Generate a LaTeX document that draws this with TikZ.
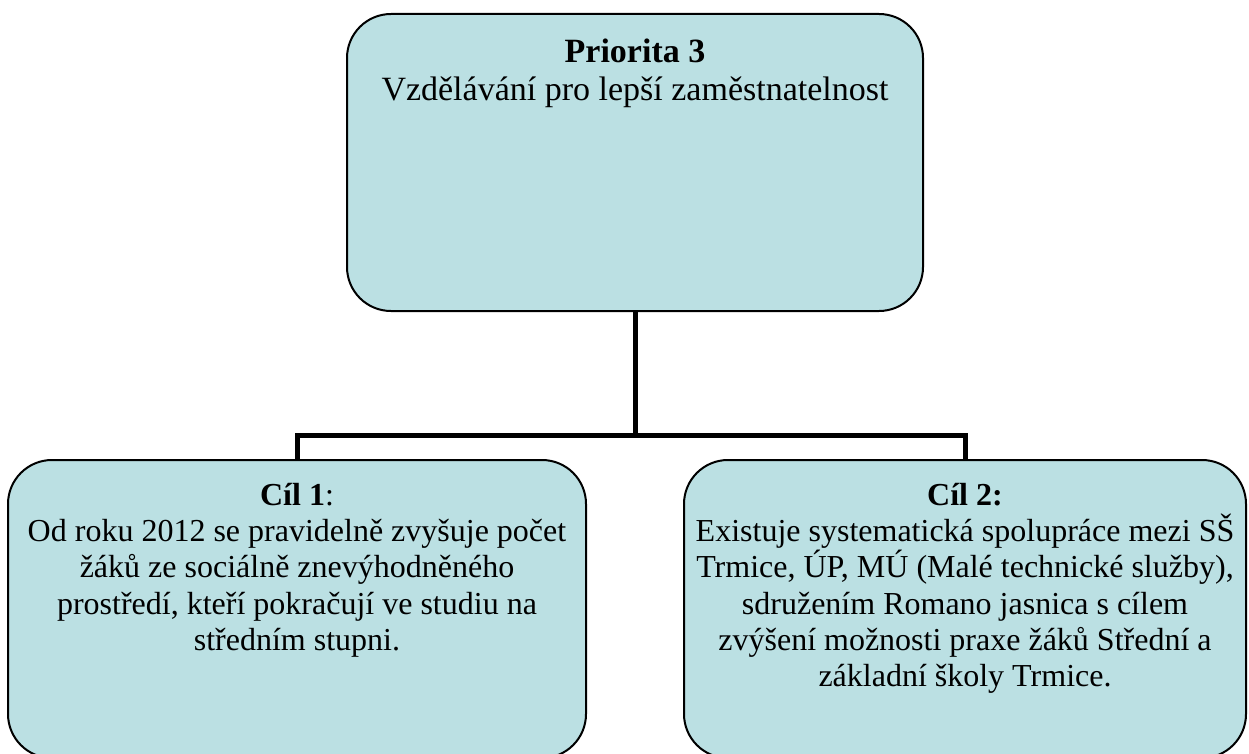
\documentclass[tikz,border=0pt]{standalone}
\usepackage{fontspec}
\setmainfont{Liberation Serif}
\definecolor{boxfill}{RGB}{187,224,227}
\begin{document}
\begin{tikzpicture}[x=1pt,y=-1pt,
  goalbox/.style={draw=black, line width=2pt, fill=boxfill, rounded corners=44pt, inner sep=0pt},
  goaltext/.style={inner sep=0pt, anchor=north, align=center, font=\fontsize{32}{36.3}\selectfont},
  conn/.style={line width=5pt, line join=miter}]
\useasboundingbox (0,0) rectangle (1249,754);

% boxes
\node[goalbox, minimum width=576pt, minimum height=297pt] (prio) at (635,162.5) {};
\node[goalbox, minimum width=578pt, minimum height=298pt] (cil1) at (297,609) {};
\node[goalbox, minimum width=562pt, minimum height=298pt] (cil2) at (965,609) {};

% texts
\node[goaltext, font=\fontsize{34}{38}\selectfont] (priotext) at (635,37)
  {\rule{0pt}{25pt}\textbf{Priorita 3}\\Vzdělávání pro lepší zaměstnatelnost};
\node[goaltext] (cil1text) at (297,480)
  {\rule{0pt}{25pt}\textbf{Cíl 1}:\\Od roku 2012 se pravidelně zvyšuje počet\\žáků ze sociálně znevýhodněného\\prostředí, kteří pokračují ve studiu na\\středním stupni.};
\node[goaltext] (cil2text) at (965,480)
  {\rule{0pt}{25pt}\textbf{Cíl 2:}\\Existuje systematická spolupráce mezi SŠ\\Trmice, ÚP, MÚ (Malé technické služby),\\sdružením Romano jasnica s cílem\\zvýšení možnosti praxe žáků Střední a\\základní školy Trmice.};

% connectors
\coordinate (bus) at (635,435);
\draw[conn] (prio.south) -- (bus);
\draw[conn] (cil1.north) |- (bus) -| (cil2.north);
\end{tikzpicture}
\end{document}
